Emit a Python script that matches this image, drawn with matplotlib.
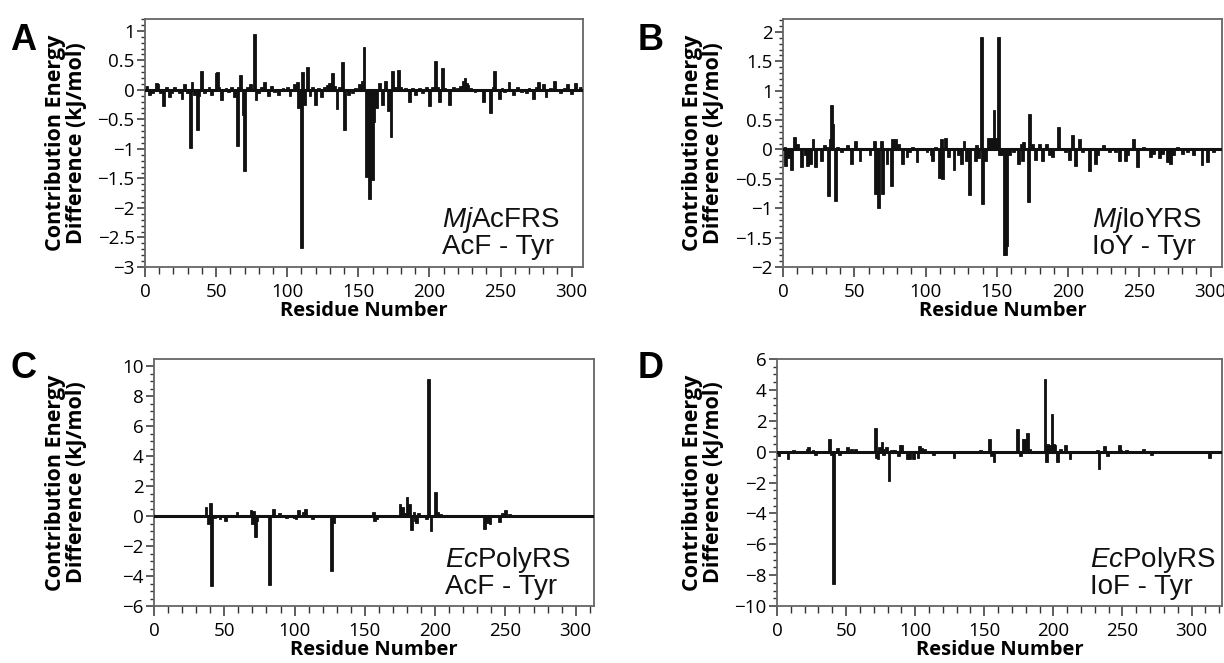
import matplotlib
matplotlib.use("Agg")
import matplotlib.pyplot as plt
from matplotlib.ticker import MultipleLocator, FuncFormatter

# ---------------- data ----------------
resA = [1, 3, 5, 8, 9, 11, 13, 15, 17, 19, 21, 24, 26, 28, 30, 32, 33, 35, 37, 38, 40, 42, 45, 47, 50, 51, 52, 54,
        57, 59, 61, 63, 65, 66, 67, 69, 70, 72, 74, 77, 78, 80, 82, 84, 87, 89, 91, 94, 97, 100, 102, 105, 107, 108,
        110, 111, 112, 114, 116, 118, 120, 122, 124, 126, 128, 130, 132, 133, 135, 137, 139, 140, 143, 146, 148, 151,
        153, 154, 156, 158, 160, 161, 163, 165, 167, 169, 171, 173, 174, 176, 178, 180, 183, 186, 188, 190, 193, 195,
        198, 200, 202, 204, 206, 207, 209, 211, 214, 217, 220, 222, 224, 225, 226, 227, 229, 232, 235, 238, 240, 243,
        245, 246, 249, 251, 253, 256, 259, 262, 265, 268, 270, 273, 275, 277, 280, 282, 285, 288, 290, 292, 295, 297,
        300, 303, 306]
valA = [0.07, -0.08, -0.05, 0.12, 0.1, -0.05, -0.27, 0.04, -0.12, -0.05, 0.05, -0.05, -0.15, 0.1, -0.05, -0.98, 0.13,
        -0.08, -0.68, -0.1, 0.32, -0.05, 0.04, -0.08, 0.28, 0.3, 0.05, -0.18,
        0.03, -0.04, 0.05, -0.12, -0.95, 0.05, 0.25, -0.42, -1.37, 0.05, 0.1, 0.95, -0.18, -0.05, 0.04, 0.13, -0.1,
        0.06, -0.03, -0.08, 0.03, 0.05, -0.1, 0.1, 0.13, -0.3,
        -2.68, 0.3, -0.25, 0.38, -0.1, 0.04, -0.25, 0.03, -0.12, 0.04, 0.08, 0.12, 0.28, 0.06, -0.33, 0.04, 0.48,
        -0.68, -0.08, -0.05, 0.03, 0.1,
        0.15, 0.73, -1.48, -1.85, -1.52, -0.55, -0.3, 0.12, -0.25, 0.15, -0.35, -0.8, 0.32, 0.05, 0.34, 0.05, 0.03,
        -0.2, 0.03, -0.08, 0.03, -0.05,
        0.04, -0.27, 0.05, 0.49, 0.04, -0.2, 0.37, 0.03, -0.25, 0.05, 0.03, 0.06, 0.15, 0.2, 0.12, 0.08, 0.03, -0.04,
        0.02, -0.2, 0.02, -0.4,
        0.04, 0.32, -0.15, 0.03, -0.04, 0.13, -0.08, 0.05, -0.03, -0.05, 0.03, -0.15, 0.04, 0.13, 0.1, -0.12, 0.03,
        0.15, 0.02, -0.05, 0.03, 0.1,
        -0.07, 0.12, 0.05]

resB = [1, 2, 4, 6, 8, 10, 13, 16, 17, 19, 21, 23, 25, 27, 29, 31, 32, 33, 34, 35, 37, 38, 41, 45, 48, 51, 54, 58,
        61, 64, 65, 66, 67, 69, 70, 73, 76, 77, 79, 81, 84, 87, 89, 91, 94, 98, 101, 104, 105, 107, 110, 111, 112,
        114, 116, 118, 120, 123, 125, 127, 129, 131, 133, 135, 136, 137, 139, 140, 142, 144, 146, 148, 149, 151, 152,
        153, 155, 156, 157, 159, 162, 165, 167, 168, 169, 172, 173, 175, 177, 180, 182, 185, 187, 189, 193, 195, 198,
        201, 203, 205, 208, 210, 213, 215, 219, 221, 225, 229, 233, 236, 240, 242, 246, 249, 253, 258, 260, 264, 266,
        270, 272, 274, 277, 280, 284, 288, 291, 294, 296, 298, 302, 305]
valB = [0.05, -0.28, -0.15, -0.35, 0.22, 0.1, -0.3, -0.1, -0.28, -0.25, 0.18, -0.3, 0.03, -0.2, 0.08, 0.05, -0.8,
        0.18, 0.76, 0.43, -0.87, 0.05, -0.05, 0.08, -0.25, 0.15, -0.2, 0.03,
        -0.1, 0.15, -0.75, -0.75, -1.0, 0.15, -0.75, -0.25, -0.62, 0.18, 0.18, 0.1, -0.25, -0.13, -0.05, 0.05, -0.22,
        0.03, -0.05, -0.1, -0.2, 0.05, -0.48, 0.18, -0.5,
        0.2, -0.12, 0.03, -0.35, -0.1, -0.25, 0.15, -0.2, -0.78, 0.03, -0.2, 0.07, -0.15, 1.92, -0.93, -0.2, 0.2, 0.2,
        0.67, 0.2, 1.92, -0.1,
        -0.1, -1.8, -1.8, -1.65, -0.1, -0.05, -0.25, 0.1, -0.2, 0.13, -0.89, 0.61, 0.1, -0.18, 0.1, -0.2, 0.1, -0.1,
        -0.12, 0.39, 0.03, -0.05,
        -0.18, 0.25, -0.28, 0.18, -0.05, 0.03, -0.37, -0.25, -0.1, 0.08, -0.05, -0.05, -0.2, -0.2, -0.1, 0.18, -0.3,
        0.05, -0.12, -0.08, -0.15, -0.08,
        -0.22, -0.25, -0.1, 0.05, -0.08, -0.05, -0.1, 0.03, -0.27, 0.03, -0.22, -0.05, 0.03]

resC = [3, 7, 10, 13, 17, 21, 23, 27, 31, 35, 37, 39, 40, 41, 43, 45, 47, 51, 55, 59, 62, 66, 69, 70, 71, 72, 73,
        76, 78, 80, 82, 85, 87, 89, 92, 94, 97, 100, 101, 103, 106, 108, 110, 112, 113, 117, 120, 122, 126, 128, 130,
        132, 137, 142, 146, 150, 152, 156, 157, 158, 161, 163, 166, 168, 172, 175, 177, 178, 180, 182, 183, 185, 186,
        187, 188, 191, 194, 195, 197, 200, 202, 204, 207, 210, 213, 215, 218, 220, 222, 225, 227, 229, 232, 235, 237,
        239, 241, 243, 246, 248, 250, 253, 255, 258, 260, 262, 265, 268, 271, 274, 277, 281, 285, 288, 292, 295, 298,
        302, 306, 310]
valC = [0.05, 0.05, 0.08, 0.1, 0.05, 0.08, 0.05, 0.03, 0.05, 0.05, 0.62, -0.5, 0.84, -4.67, -0.1, 0.05, -0.2, -0.35,
        0.05, 0.3, 0.1, 0.1, 0.4, -0.5, 0.35, -1.42, -0.3,
        0.05, 0.1, 0.1, -4.6, 0.45, 0.1, 0.2, 0.05, -0.1, 0.05, -0.1, -0.2, 0.4, 0.3, 0.45, 0.1, -0.05, -0.2, 0.05,
        0.05, 0.1, -3.66, -0.45, 0.05,
        -0.05, 0.03, 0.1, 0.05, 0.03, 0.1, 0.25, -0.3, -0.2, 0.05, -0.05, 0.03, 0.05, 0.05, 0.78, 0.6, 0.2, 1.24, 0.8,
        -0.93, 0.3, -0.3,
        -0.45, 0.2, 0.1, -0.2, 9.11, -1.0, 1.62, 0.3, 0.15, 0.1, 0.05, 0.05, 0.05, 0.03, -0.05, 0.03, 0.05, 0.03,
        -0.05, 0.03, -0.87, -0.45,
        -0.55, 0.05, 0.03, -0.4, 0.2, 0.4, 0.15, 0.05, 0.1, 0.05, 0.05, 0.03, 0.1, 0.03, 0.05, 0.05, 0.03, 0.05, 0.05,
        0.03, 0.05, 0.05,
        0.03, 0.05, 0.03]

resD = [1, 3, 8, 12, 16, 19, 22, 23, 26, 27, 28, 31, 34, 38, 39, 41, 44, 45, 48, 51, 54, 57, 60, 64, 68, 71, 72, 73,
        74, 76, 77, 78, 79, 81, 83, 85, 87, 88, 89, 90, 94, 96, 99, 102, 103, 105, 107, 110, 113, 118, 123, 128, 132,
        136, 140, 144, 147, 150, 154, 155, 157, 161, 164, 167, 171, 174, 176, 178, 179, 181, 183, 185, 189, 192, 194,
        195, 196, 197, 199, 200, 201, 203, 205, 207, 209, 212, 215, 218, 222, 226, 230, 232, 233, 237, 239, 242, 245,
        248, 249, 253, 257, 261, 265, 268, 271, 275, 279, 283, 287, 291, 296, 300, 304, 308, 313, 316, 320]
valD = [-0.3, 0.05, -0.45, 0.1, 0.05, -0.05, 0.2, 0.3, 0.1, -0.1, -0.25, 0.03, 0.05, 0.8, -0.2, -8.55, 0.25, -0.25,
        0.05, 0.3, 0.15, 0.15, -0.05, 0.03, 0.03, 1.56, -0.4, -0.5,
        0.3, 0.65, -0.2, 0.2, 0.3, -1.88, 0.1, 0.1, -0.05, -0.3, 0.45, 0.4, -0.45, -0.45, -0.45, -0.4, 0.35, 0.25, 0.2,
        0.05, -0.2, -0.05, 0.05, -0.4, -0.05,
        0.03, 0.05, 0.05, 0.1, 0.05, 0.85, -0.3, -0.7, 0.05, 0.03, 0.05, 0.05, 1.45, -0.3, 0.8, 0.85, 1.23, 0.2, 0.05,
        0.05, 0.05, 4.7,
        -0.65, 0.5, 0.4, 2.42, 0.5, 0.4, -0.7, 0.2, 0.05, 0.4, -0.45, -0.05, 0.03, -0.05, 0.03, -0.1, 0.1, -1.15, 0.35,
        -0.3, -0.1, 0.05,
        0.4, 0.1, 0.1, -0.05, 0.05, 0.2, 0.05, -0.25, 0.03, -0.05, 0.03, 0.05, 0.03, -0.05, 0.03, -0.05, 0.03, -0.4,
        -0.05, 0.03]

panel_letters = ["A", "B", "C", "D"]
enzymes = ["Mj|AcFRS", "Mj|IoYRS", "Ec|PolyRS", "Ec|PolyRS"]
comparisons = ["AcF - Tyr", "IoY - Tyr", "AcF - Tyr", "IoF - Tyr"]
ylabel_text = "Contribution Energy\nDifference (kJ/mol)"
xlabel_text = "Residue Number"

# ---------------- style ----------------
plt.rcParams['font.family'] = ['Open Sans', 'DejaVu Sans']
plt.rcParams['mathtext.fontset'] = 'custom'
plt.rcParams['mathtext.rm'] = 'Liberation Sans'
plt.rcParams['mathtext.it'] = 'Liberation Sans:italic'

W, H = 1224, 663
fig = plt.figure(figsize=(W / 100, H / 100), dpi=100)


def px_axes(l, r, t, b):
    return fig.add_axes([l / W, 1 - b / H, (r - l) / W, (b - t) / H])


def fmt(v, p):
    if abs(v) < 1e-9:
        return "0"
    return ("%g" % v).replace("-", "\u2212")


panels = [
    dict(res=resA, val=valA, box=(145, 583, 19, 267), xlim=(0, 308), ylim=(-3.0, 1.2), maj=0.5, mnr=0.1,
         txt=(0.678, 0.030), ylx=66, letter=(10, 50)),
    dict(res=resB, val=valB, box=(783, 1222, 19, 267), xlim=(0, 308), ylim=(-2.0, 2.22), maj=0.5, mnr=0.1,
         txt=(0.704, 0.030), ylx=703, letter=(638, 50)),
    dict(res=resC, val=valC, box=(154, 594, 359, 606), xlim=(0, 313), ylim=(-6.0, 10.47), maj=2, mnr=0.5,
         txt=(0.661, 0.025), ylx=66, letter=(10, 378)),
    dict(res=resD, val=valD, box=(777, 1222, 359, 606), xlim=(0, 322), ylim=(-10.0, 6.0), maj=2, mnr=0.5,
         txt=(0.703, 0.025), ylx=703, letter=(638, 378)),
]

for i, p in enumerate(panels):
    l, r, t, b = p['box']
    ax = px_axes(l, r, t, b)
    ax.bar(p['res'], p['val'], width=2.0, color='#111111', edgecolor='#111111', linewidth=0.6, zorder=2)
    ax.axhline(0, color='#111111', lw=2.2, zorder=3)
    ax.set_xlim(*p['xlim'])
    ax.set_ylim(*p['ylim'])
    ax.xaxis.set_major_locator(MultipleLocator(50))
    ax.xaxis.set_minor_locator(MultipleLocator(10))
    ax.yaxis.set_major_locator(MultipleLocator(p['maj']))
    ax.yaxis.set_minor_locator(MultipleLocator(p['mnr']))
    ax.yaxis.set_major_formatter(FuncFormatter(fmt))
    ax.xaxis.set_major_formatter(FuncFormatter(fmt))
    ax.tick_params(axis='x', which='major', direction='out', length=7.2, width=1.1, color='#333333',
                   labelsize=13.5, pad=4, top=False)
    ax.tick_params(axis='x', which='minor', direction='out', length=4.8, width=1.0, color='#333333', top=False)
    ax.tick_params(axis='y', which='major', direction='out', length=5.5, width=1.1, color='#333333',
                   labelsize=13.5, pad=2, right=False)
    ax.tick_params(axis='y', which='minor', direction='out', length=3.2, width=1.0, color='#333333', right=False)
    for s in ax.spines.values():
        s.set_color('#666666')
        s.set_linewidth(1.3)
    ax.set_xlabel(xlabel_text, fontsize=14.5, fontweight='bold', labelpad=0)
    cy = 1 - ((t + b) / 2) / H
    fig.text(p['ylx'] / W, cy, ylabel_text, rotation=90, ha='center', va='center',
             fontsize=15.5, fontweight='bold', multialignment='center', linespacing=1.0)
    it, rest = enzymes[i].split("|")
    tx, yb = p['txt']
    label = r"$\mathit{" + it + "}$" + rest + "\n" + comparisons[i]
    ax.text(tx, yb, label, transform=ax.transAxes, ha='left', va='bottom', multialignment='left',
            fontsize=20, family='Liberation Sans', color='#111111', linespacing=0.95, zorder=5)
    lx, ly = p['letter']
    fig.text(lx / W, 1 - ly / H, panel_letters[i], fontsize=26, fontweight='bold',
             family='Liberation Sans', ha='left', va='baseline')

fig.savefig("out.png", dpi=100)
